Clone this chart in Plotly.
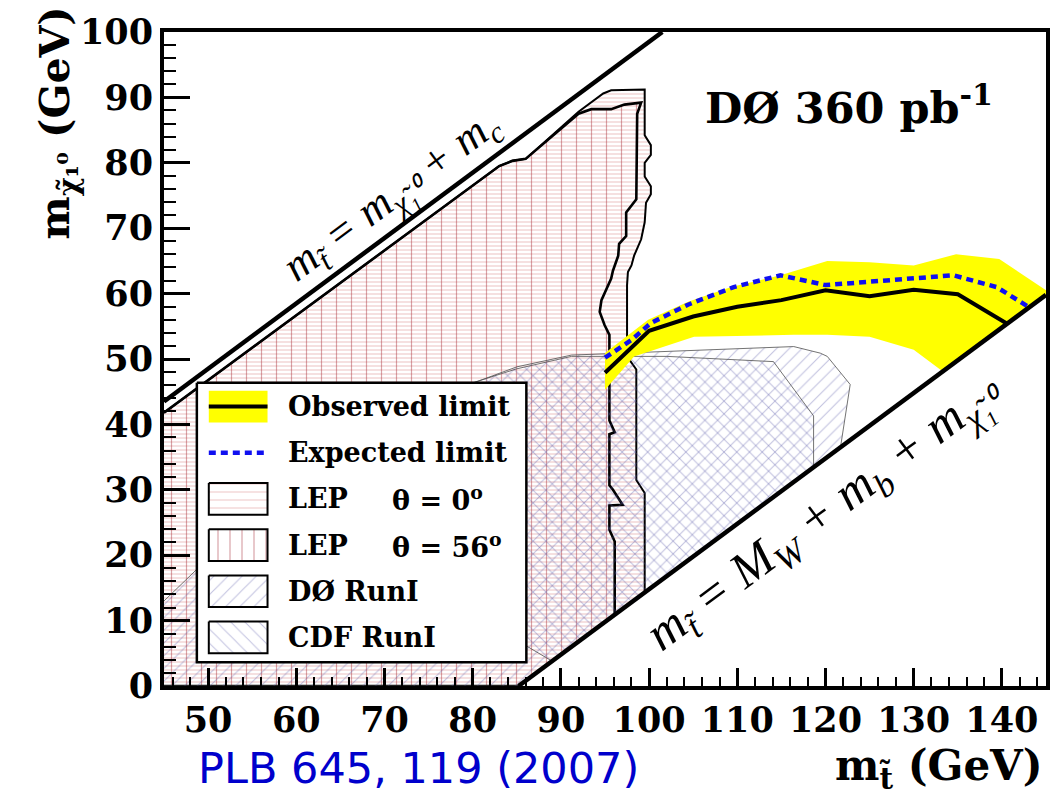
import plotly.graph_objects as go

# ---------------------------------------------------------------- data (GeV)
X_RANGE = [45, 145]
Y_RANGE = [0, 100]
X_TICKS = [50, 60, 70, 80, 90, 100, 110, 120, 130, 140]
Y_TICKS = [0, 10, 20, 30, 40, 50, 60, 70, 80, 90, 100]

# kinematic limits: m_stop = m_chi + m_c  and  m_stop = M_W + m_b + m_chi
M_C = 1.5
M_W_PLUS_M_B = 85.2

# observed 95% C.L. limit
obs_mstop = [95, 100, 105, 110, 115, 120, 125, 130, 135, 140.6]
obs_mchi = [47.9, 54.3, 56.5, 58.0, 59.0, 60.5, 59.6, 60.6, 59.9, 55.4]

# expected limit
exp_mstop = [95, 98, 100.2, 104.4, 109.6, 114.9, 120, 125, 130, 134.5, 139.4, 143.1]
exp_mchi = [50.2, 52.9, 55.5, 58.3, 61.0, 62.8, 61.3, 61.8, 62.3, 62.8, 61.0, 57.9]

# theory uncertainty band on the observed limit
band_up_mstop = [95, 99.9, 104.5, 109.3, 114.9, 120.2, 125, 130, 134.8, 139.7, 145]
band_up_mchi = [50.9, 56.0, 58.8, 61.0, 62.8, 65.0, 64.8, 64.3, 66.0, 65.3, 60.5]
band_lo_mstop = [145, 133.3, 130, 125, 120.2, 116.4, 105.1, 98.3, 95]
band_lo_mchi = [59.8, 48.1, 51.4, 53.4, 53.7, 53.7, 53.4, 50.4, 45.3]

# LEP exclusion, theta = 0 deg
lep0_mstop = [45, 83, 84.5, 86, 92, 94.8, 95.7, 99.5, 99.5, 100.2, 100.2, 99.5, 99.5,
              100.2, 100.2, 99.65, 99.5, 99.1, 98.3, 98.0, 97.6, 97.5, 97.5, 98.55,
              98.55, 99.5, 99.5, 85.2, 45]
lep0_mchi = [41.8, 79.5, 80.3, 80.6, 87.8, 90.6, 91.1, 91.2, 84.2, 82.7, 81.2, 80.0, 77.9,
             76.4, 75.2, 73.9, 70.9, 68.3, 65.8, 64.3, 63.3, 61.3, 50.4, 48.4,
             31.5, 29.5, 14.3, 0, 0]

# LEP exclusion, theta = 56 deg
lep56_mstop = [45, 83, 84.5, 86, 92, 93.45, 95.7, 97.2, 99.1, 98.65, 98.55, 97.4, 97.4,
               96.6, 96.5, 95.9, 95.7, 94.6, 94.4, 94.95, 95.5, 95.5, 96.1, 95.5, 95.5,
               95.9, 97.0, 95.5, 95.5, 96.1, 96.1, 85.2, 45]
lep56_mchi = [41.8, 79.5, 80.3, 80.6, 87.5, 88.2, 88.2, 88.9, 89.2, 87.5, 74.4, 72.4, 68.8,
              67.6, 65.8, 63.5, 62.3, 59.0, 57.2, 55.2, 53.7, 40.6, 38.8, 38.5, 30.7,
              30.0, 27.7, 27.6, 23.9, 22.1, 10.9, 0, 0]

# Tevatron Run I exclusions
d0_mstop = [45, 50, 55, 60, 65, 70, 75, 80, 85, 91.2, 102, 116.4, 119.4, 120.2, 122.8, 121.7, 85.2, 45]
d0_mchi = [13.0, 19.5, 26, 32, 37, 41, 44, 46.3, 48.8, 50.6, 51.2, 51.9, 50.9, 50.4, 46.1, 36.5, 0, 0]

cdf_mstop = [62, 70, 78, 85, 91.2, 102, 114.1, 118.65, 118.65, 89, 75]
cdf_mchi = [30, 40, 45.5, 48.5, 50.4, 50.4, 49.6, 41.3, 33.4, 3.8, 15]

# legend entries
legend_labels = ["Observed limit", "Expected limit", "LEP", "LEP", "DØ RunI", "CDF RunI"]
legend_theta = ["", "", "θ = 0<sup>o</sup>", "θ = 56<sup>o</sup>", "", ""]

# ---------------------------------------------------------------- layout geometry
W, H = 1061, 795
ML, MR, MT, MB = 164, 11, 26, 109
PW, PH = W - ML - MR, H - MT - MB


def px_x(px):
    return X_RANGE[0] + (px - ML) / PW * (X_RANGE[1] - X_RANGE[0])


def py_y(py):
    return Y_RANGE[0] + (MT + PH - py) / PH * (Y_RANGE[1] - Y_RANGE[0])


def paper_x(px):
    return (px - ML) / PW


def paper_y(py):
    return (MT + PH - py) / PH


SERIF = "DejaVu Serif"
RED_H = "rgba(200,80,80,0.7)"
RED_V = "rgba(170,50,60,0.9)"
HATCH = "rgba(90,90,170,0.75)"

fig = go.Figure()


def region(xs, ys, shape, size, solidity, fg, line_w, line_c):
    fig.add_trace(go.Scatter(
        x=xs, y=ys, mode="lines", fill="toself",
        fillcolor="rgba(0,0,0,0)",
        fillpattern=dict(shape=shape, size=size, solidity=solidity,
                         fgcolor=fg, bgcolor="rgba(0,0,0,0)"),
        line=dict(color=line_c, width=line_w),
        hoverinfo="skip", showlegend=False))


# LEP regions
region(lep0_mstop, lep0_mchi, "-", 4, 0.25, RED_H, 2, "black")
region(lep56_mstop, lep56_mchi, "|", 15, 0.08, RED_V, 2.6, "black")
# Run I regions
region(d0_mstop, d0_mchi, "/", 9, 0.12, HATCH, 1, "rgba(80,80,80,0.8)")
region(cdf_mstop, cdf_mchi, "\\", 9, 0.12, HATCH, 1, "rgba(80,80,80,0.8)")

# yellow band
fig.add_trace(go.Scatter(
    x=band_up_mstop + band_lo_mstop, y=band_up_mchi + band_lo_mchi,
    mode="lines", fill="toself", fillcolor="#ffff00",
    line=dict(width=0, color="#ffff00"), hoverinfo="skip", showlegend=False))

# expected and observed limits
fig.add_trace(go.Scatter(x=exp_mstop, y=exp_mchi, mode="lines",
                         line=dict(color="#1010f0", width=4.5, dash="7px,5px"),
                         hoverinfo="skip", showlegend=False))
fig.add_trace(go.Scatter(x=obs_mstop, y=obs_mchi, mode="lines",
                         line=dict(color="black", width=4),
                         hoverinfo="skip", showlegend=False))

# kinematic limit lines
up_x = [X_RANGE[0], Y_RANGE[1] + M_C]
fig.add_trace(go.Scatter(x=up_x, y=[v - M_C for v in up_x], mode="lines",
                         line=dict(color="black", width=4.5),
                         hoverinfo="skip", showlegend=False))
lo_x = [M_W_PLUS_M_B, X_RANGE[1]]
fig.add_trace(go.Scatter(x=lo_x, y=[v - M_W_PLUS_M_B for v in lo_x], mode="lines",
                         line=dict(color="black", width=4.5),
                         hoverinfo="skip", showlegend=False))

# ---------------------------------------------------------------- legend box
LX0, LX1, LY0, LY1 = 197, 528, 380, 662
fig.add_trace(go.Scatter(
    x=[px_x(LX0), px_x(LX1), px_x(LX1), px_x(LX0), px_x(LX0)],
    y=[py_y(LY0), py_y(LY0), py_y(LY1), py_y(LY1), py_y(LY0)],
    mode="lines", fill="toself", fillcolor="white",
    line=dict(color="black", width=2.5), hoverinfo="skip", showlegend=False))

ROW0, ROW_H = 404, 46.6
SX0, SX1, SH = 209, 268, 16


def swatch_box(row):
    cy = ROW0 + row * ROW_H
    xs = [px_x(SX0), px_x(SX1), px_x(SX1), px_x(SX0), px_x(SX0)]
    ys = [py_y(cy - SH), py_y(cy - SH), py_y(cy + SH), py_y(cy + SH), py_y(cy - SH)]
    return xs, ys, cy


# observed: yellow box with black line
xs, ys, cy = swatch_box(0)
fig.add_trace(go.Scatter(x=xs, y=ys, mode="lines", fill="toself", fillcolor="#ffff00",
                         line=dict(width=0, color="#ffff00"), hoverinfo="skip", showlegend=False))
fig.add_trace(go.Scatter(x=[px_x(SX0), px_x(SX1)], y=[py_y(cy), py_y(cy)], mode="lines",
                         line=dict(color="black", width=4), hoverinfo="skip", showlegend=False))
# expected: dashed blue
cy = ROW0 + ROW_H
fig.add_trace(go.Scatter(x=[px_x(SX0), px_x(SX1)], y=[py_y(cy), py_y(cy)], mode="lines",
                         line=dict(color="#1010f0", width=4.5, dash="7px,5px"),
                         hoverinfo="skip", showlegend=False))
# hatched boxes
for row, (shape, size, sol, fg) in zip(
        [2, 3, 4, 5],
        [("-", 8, 0.12, RED_H), ("|", 12, 0.1, RED_V),
         ("/", 10, 0.1, HATCH), ("\\", 10, 0.1, HATCH)]):
    xs, ys, _ = swatch_box(row)
    region(xs, ys, shape, size, sol, fg, 2, "black")

# ---------------------------------------------------------------- annotations
ann = []
for i, (lab, th) in enumerate(zip(legend_labels, legend_theta)):
    cy = ROW0 + i * ROW_H
    ann.append(dict(x=paper_x(287), y=paper_y(cy), xref="paper", yref="paper",
                    text=lab, showarrow=False, xanchor="left", yanchor="middle",
                    font=dict(family=SERIF, size=27, color="black", weight="bold")))
    if th:
        ann.append(dict(x=paper_x(391), y=paper_y(cy), xref="paper", yref="paper",
                        text=th, showarrow=False, xanchor="left", yanchor="middle",
                        font=dict(family=SERIF, size=27, color="black", weight="bold")))

# experiment label
ann.append(dict(x=paper_x(852), y=paper_y(100), xref="paper", yref="paper",
                text="DØ 360 pb<sup>-1</sup>", showarrow=False,
                xanchor="center", yanchor="middle",
                font=dict(family=SERIF, size=43, color="black", weight="bold")))

# kinematic line labels
ANGLE = -36.7
ann.append(dict(x=paper_x(394), y=paper_y(192), xref="paper", yref="paper",
                text="m<sub>t̃</sub> = m<sub>χ̃₁⁰</sub> + m<sub>c</sub>", showarrow=False,
                textangle=ANGLE, xanchor="center", yanchor="middle",
                font=dict(family="Liberation Serif", size=44, color="black", style="italic")))
ann.append(dict(x=paper_x(828), y=paper_y(512), xref="paper", yref="paper",
                text="m<sub>t̃</sub> = M<sub>W</sub> + m<sub>b</sub> + m<sub>χ̃₁⁰</sub>",
                showarrow=False, textangle=ANGLE, xanchor="center", yanchor="middle",
                font=dict(family="Liberation Serif", size=50, color="black", style="italic")))

# axis titles
ann.append(dict(x=paper_x(58), y=paper_y(118), xref="paper", yref="paper",
                text="m<sub>χ̃₁⁰</sub> (GeV)", showarrow=False, textangle=-90,
                xanchor="center", yanchor="middle",
                font=dict(family=SERIF, size=41, color="black", weight="bold")))
ann.append(dict(x=paper_x(1049), y=paper_y(769), xref="paper", yref="paper",
                text="m<sub>t̃</sub> (GeV)", showarrow=False,
                xanchor="right", yanchor="middle",
                font=dict(family=SERIF, size=42, color="black", weight="bold")))

# reference
ann.append(dict(x=paper_x(196), y=paper_y(769), xref="paper", yref="paper",
                text="PLB 645, 119 (2007)", showarrow=False,
                xanchor="left", yanchor="middle",
                font=dict(family="DejaVu Sans", size=43, color="#0000cc")))

axis_common = dict(showgrid=False, zeroline=False, showline=True, linecolor="black",
                   linewidth=4, mirror=True, ticks="inside", tickcolor="black",
                   tickwidth=2.5,
                   tickfont=dict(family=SERIF, size=35, color="black", weight="bold"))

fig.update_layout(
    width=W, height=H,
    margin=dict(l=ML, r=MR, t=MT, b=MB),
    paper_bgcolor="white", plot_bgcolor="white",
    showlegend=False,
    annotations=ann,
    xaxis=dict(range=X_RANGE, tickvals=X_TICKS, ticklen=18,
               minor=dict(dtick=2, ticks="inside", ticklen=9, tickcolor="black", tickwidth=2),
               **axis_common),
    yaxis=dict(range=Y_RANGE, tickvals=Y_TICKS, ticklen=26,
               minor=dict(dtick=2, ticks="inside", ticklen=12, tickcolor="black", tickwidth=2),
               **axis_common),
)

fig.write_html("out.html")
